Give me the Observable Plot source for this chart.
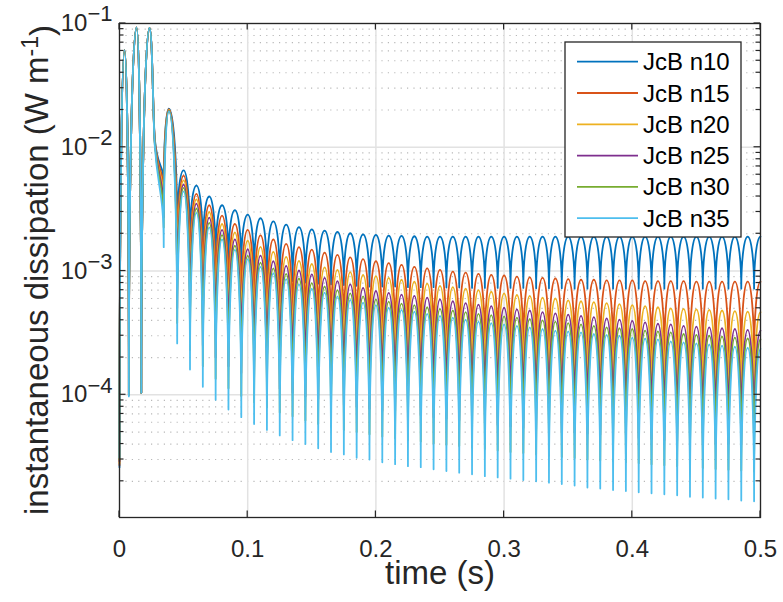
<!DOCTYPE html>
<html><head><meta charset="utf-8">
<script src="https://cdn.jsdelivr.net/npm/d3@7"></script>
<script src="https://cdn.jsdelivr.net/npm/@observablehq/plot@0.6"></script>
<style>body{margin:0;background:#fff;} svg{display:block}</style>
</head><body><div id="chart"></div><script>
const names = ["JcB n10", "JcB n15", "JcB n20", "JcB n25", "JcB n30", "JcB n35"];
const colors = ["#0072BD", "#D95319", "#EDB120", "#7E2F8E", "#77AC30", "#4DBEEE"];
const xTicks = [0, 0.1, 0.2, 0.3, 0.4, 0.5];
const yMajor = [1e-4, 1e-3, 1e-2, 1e-1];
const yMinor = [2e-5,3e-5,4e-5,5e-5,6e-5,7e-5,8e-5,9e-5,2e-4,3e-4,4e-4,5e-4,6e-4,7e-4,8e-4,9e-4,
  2e-3,3e-3,4e-3,5e-3,6e-3,7e-3,8e-3,9e-3,2e-2,3e-2,4e-2,5e-2,6e-2,7e-2,8e-2,9e-2];
const yDomain = [1.02e-5, 0.1];

// start-up transient (times in s)
const earlyTime = [0, 0.0039, 0.0073, 0.0133, 0.017, 0.0234, 0.0275, 0.0345, 0.0385];
const earlyN10 = [2.6e-5, 0.061, 1.0e-4, 0.093, 1.04e-4, 0.092, 0.0118, 4.75e-3, 0.0205];
const earlyN15 = [2.7e-5, 0.061, 1.0e-4, 0.093, 1.04e-4, 0.092, 0.0115, 3.95e-3, 0.0203];
const earlyN20 = [2.8e-5, 0.061, 1.0e-4, 0.093, 1.04e-4, 0.092, 0.0112, 3.27e-3, 0.0201];
const earlyN25 = [2.9e-5, 0.061, 1.0e-4, 0.093, 1.04e-4, 0.092, 0.0110, 2.72e-3, 0.0199];
const earlyN30 = [3.0e-5, 0.061, 1.0e-4, 0.093, 1.04e-4, 0.092, 0.0107, 2.25e-3, 0.0197];
const earlyN35 = [3.1e-5, 0.061, 9.7e-5, 0.093, 1.04e-4, 0.092, 0.0104, 1.56e-3, 0.0195];

// regular oscillation: troughs and peaks
const troughTime = [0.045,0.055,0.065,0.075,0.085,0.095,0.105,0.115,0.125,0.135,0.145,0.155,0.165,0.175,0.185,0.195,
  0.205,0.215,0.225,0.235,0.245,0.255,0.265,0.275,0.285,0.295,0.305,0.315,0.325,0.335,0.345,0.355,0.365,0.375,0.385,
  0.395,0.405,0.415,0.425,0.435,0.445,0.455,0.465,0.475,0.485,0.495];
const peakTime = [0.05,0.06,0.07,0.08,0.09,0.10,0.11,0.12,0.13,0.14,0.15,0.16,0.17,0.18,0.19,0.20,0.21,0.22,0.23,
  0.24,0.25,0.26,0.27,0.28,0.29,0.30,0.31,0.32,0.33,0.34,0.35,0.36,0.37,0.38,0.39,0.40,0.41,0.42,0.43,0.44,0.45,
  0.46,0.47,0.48,0.49,0.50];

const peaksN10 = [6.5e-3,4.9e-3,4.0e-3,3.4e-3,3.1e-3,2.86e-3,2.67e-3,2.52e-3,2.37e-3,2.26e-3,
  2.17e-3,2.12e-3,2.07e-3,2.02e-3,1.98e-3,1.96e-3,1.93e-3,1.92e-3,1.91e-3,1.90e-3,
  1.90e-3,1.90e-3,1.90e-3,1.90e-3,1.90e-3,1.90e-3,1.90e-3,1.90e-3,1.90e-3,1.90e-3,
  1.90e-3,1.90e-3,1.90e-3,1.90e-3,1.90e-3,1.90e-3,1.90e-3,1.90e-3,1.90e-3,1.90e-3,
  1.90e-3,1.90e-3,1.90e-3,1.90e-3,1.90e-3,1.90e-3];
const troughsN10 = [2.2e-3,1.8e-3,1.5e-3,1.3e-3,1.18e-3,1.1e-3,9.6e-4,8.9e-4,8.6e-4,8.3e-4,
  8.1e-4,7.9e-4,7.8e-4,7.7e-4,7.6e-4,7.5e-4,7.5e-4,7.5e-4,7.4e-4,7.4e-4,
  7.4e-4,7.35e-4,7.35e-4,7.3e-4,7.3e-4,7.3e-4,7.3e-4,7.3e-4,7.25e-4,7.25e-4,
  7.25e-4,7.2e-4,7.2e-4,7.2e-4,7.2e-4,7.2e-4,7.2e-4,7.2e-4,7.2e-4,7.2e-4,
  7.2e-4,7.2e-4,7.2e-4,7.2e-4,7.2e-4,7.2e-4];
const peaksN15 = [5.9e-3,4.2e-3,3.4e-3,2.8e-3,2.4e-3,2.15e-3,1.94e-3,1.80e-3,1.66e-3,1.56e-3,
  1.49e-3,1.41e-3,1.35e-3,1.29e-3,1.25e-3,1.20e-3,1.16e-3,1.12e-3,1.08e-3,1.05e-3,
  1.02e-3,9.9e-4,9.7e-4,9.5e-4,9.3e-4,9.2e-4,9.0e-4,8.9e-4,8.8e-4,8.7e-4,
  8.6e-4,8.5e-4,8.5e-4,8.4e-4,8.4e-4,8.4e-4,8.3e-4,8.3e-4,8.3e-4,8.3e-4,
  8.2e-4,8.2e-4,8.2e-4,8.2e-4,8.2e-4,8.2e-4];
const troughsN15 = [1.2e-3,9.0e-4,7.4e-4,6.4e-4,5.7e-4,5.1e-4,4.6e-4,4.2e-4,3.9e-4,3.7e-4,
  3.45e-4,3.3e-4,3.2e-4,3.1e-4,2.95e-4,2.85e-4,2.8e-4,2.7e-4,2.65e-4,2.6e-4,
  2.55e-4,2.5e-4,2.45e-4,2.4e-4,2.37e-4,2.34e-4,2.3e-4,2.27e-4,2.24e-4,2.21e-4,
  2.18e-4,2.16e-4,2.14e-4,2.12e-4,2.1e-4,2.08e-4,2.06e-4,2.05e-4,2.04e-4,2.03e-4,
  2.02e-4,2.01e-4,2.0e-4,2.0e-4,1.99e-4,1.99e-4];
const peaksN20 = [5.4e-3,3.8e-3,3.0e-3,2.4e-3,2.05e-3,1.76e-3,1.57e-3,1.43e-3,1.30e-3,1.21e-3,
  1.14e-3,1.07e-3,1.02e-3,9.8e-4,9.3e-4,9.1e-4,8.8e-4,8.5e-4,8.2e-4,7.9e-4,
  7.6e-4,7.4e-4,7.2e-4,7.0e-4,6.8e-4,6.6e-4,6.4e-4,6.3e-4,6.1e-4,6.0e-4,
  5.8e-4,5.7e-4,5.6e-4,5.5e-4,5.4e-4,5.3e-4,5.2e-4,5.1e-4,5.0e-4,4.95e-4,
  4.9e-4,4.85e-4,4.8e-4,4.75e-4,4.7e-4,4.65e-4];
const troughsN20 = [7.0e-4,4.8e-4,3.7e-4,3.1e-4,2.7e-4,2.4e-4,2.2e-4,2.0e-4,1.85e-4,1.75e-4,
  1.65e-4,1.57e-4,1.5e-4,1.44e-4,1.38e-4,1.33e-4,1.29e-4,1.25e-4,1.22e-4,1.19e-4,
  1.16e-4,1.13e-4,1.1e-4,1.07e-4,1.05e-4,1.02e-4,1.0e-4,9.8e-5,9.6e-5,9.4e-5,
  9.2e-5,9.0e-5,8.9e-5,8.7e-5,8.6e-5,8.5e-5,8.4e-5,8.3e-5,8.2e-5,8.1e-5,
  8.0e-5,7.9e-5,7.8e-5,7.7e-5,7.6e-5,7.5e-5];
const peaksN25 = [5.0e-3,3.5e-3,2.7e-3,2.15e-3,1.8e-3,1.5e-3,1.33e-3,1.2e-3,1.1e-3,1.01e-3,
  9.4e-4,8.8e-4,8.3e-4,7.8e-4,7.3e-4,6.9e-4,6.65e-4,6.45e-4,6.3e-4,6.1e-4,
  5.9e-4,5.7e-4,5.5e-4,5.35e-4,5.2e-4,5.05e-4,4.9e-4,4.8e-4,4.65e-4,4.55e-4,
  4.45e-4,4.35e-4,4.25e-4,4.15e-4,4.05e-4,3.95e-4,3.85e-4,3.75e-4,3.7e-4,3.6e-4,
  3.55e-4,3.5e-4,3.45e-4,3.4e-4,3.35e-4,3.3e-4];
const troughsN25 = [5.0e-4,3.3e-4,2.5e-4,2.0e-4,1.7e-4,1.5e-4,1.35e-4,1.22e-4,1.12e-4,1.04e-4,
  9.7e-5,9.2e-5,8.7e-5,8.3e-5,8.0e-5,7.7e-5,7.4e-5,7.2e-5,7.0e-5,6.8e-5,
  6.6e-5,6.4e-5,6.2e-5,6.0e-5,5.85e-5,5.7e-5,5.55e-5,5.4e-5,5.3e-5,5.2e-5,
  5.05e-5,4.95e-5,4.85e-5,4.75e-5,4.65e-5,4.55e-5,4.45e-5,4.4e-5,4.3e-5,4.25e-5,
  4.15e-5,4.1e-5,4.05e-5,4.0e-5,3.95e-5,3.9e-5];
const peaksN30 = [4.7e-3,3.2e-3,2.45e-3,1.95e-3,1.6e-3,1.33e-3,1.17e-3,1.05e-3,9.5e-4,8.7e-4,
  8.0e-4,7.5e-4,7.0e-4,6.6e-4,6.25e-4,5.9e-4,5.65e-4,5.45e-4,5.3e-4,5.1e-4,
  4.95e-4,4.8e-4,4.65e-4,4.5e-4,4.4e-4,4.3e-4,4.2e-4,4.1e-4,4.0e-4,3.9e-4,
  3.8e-4,3.7e-4,3.6e-4,3.5e-4,3.45e-4,3.4e-4,3.3e-4,3.25e-4,3.2e-4,3.1e-4,
  3.05e-4,3.0e-4,2.95e-4,2.9e-4,2.85e-4,2.8e-4];
const troughsN30 = [3.8e-4,2.3e-4,1.7e-4,1.35e-4,1.13e-4,9.8e-5,8.7e-5,7.9e-5,7.2e-5,6.7e-5,
  6.2e-5,5.8e-5,5.5e-5,5.2e-5,5.0e-5,4.8e-5,4.6e-5,4.45e-5,4.3e-5,4.2e-5,
  4.05e-5,3.95e-5,3.85e-5,3.75e-5,3.65e-5,3.55e-5,3.45e-5,3.38e-5,3.3e-5,3.22e-5,
  3.15e-5,3.08e-5,3.0e-5,2.95e-5,2.9e-5,2.85e-5,2.8e-5,2.75e-5,2.7e-5,2.65e-5,
  2.6e-5,2.56e-5,2.52e-5,2.48e-5,2.44e-5,2.4e-5];
const peaksN35 = [4.4e-3,2.95e-3,2.25e-3,1.8e-3,1.48e-3,1.25e-3,1.08e-3,9.6e-4,8.6e-4,7.8e-4,
  7.2e-4,6.7e-4,6.25e-4,5.85e-4,5.55e-4,5.3e-4,5.05e-4,4.85e-4,4.7e-4,4.5e-4,
  4.35e-4,4.2e-4,4.05e-4,3.9e-4,3.8e-4,3.7e-4,3.6e-4,3.5e-4,3.4e-4,3.3e-4,
  3.25e-4,3.2e-4,3.1e-4,3.05e-4,3.0e-4,2.9e-4,2.85e-4,2.8e-4,2.7e-4,2.65e-4,
  2.6e-4,2.55e-4,2.5e-4,2.45e-4,2.4e-4,2.35e-4];
const troughsN35 = [2.6e-4,1.6e-4,1.16e-4,9.1e-5,7.6e-5,6.6e-5,5.8e-5,5.2e-5,4.7e-5,4.3e-5,
  4.0e-5,3.7e-5,3.45e-5,3.3e-5,3.1e-5,3.0e-5,2.85e-5,2.75e-5,2.65e-5,2.6e-5,
  2.5e-5,2.42e-5,2.35e-5,2.28e-5,2.2e-5,2.15e-5,2.1e-5,2.05e-5,2.0e-5,1.95e-5,
  1.9e-5,1.85e-5,1.78e-5,1.75e-5,1.7e-5,1.67e-5,1.63e-5,1.6e-5,1.57e-5,1.54e-5,
  1.5e-5,1.48e-5,1.45e-5,1.43e-5,1.4e-5,1.38e-5];

const earlyAll = [earlyN10, earlyN15, earlyN20, earlyN25, earlyN30, earlyN35];
const peaksAll = [peaksN10, peaksN15, peaksN20, peaksN25, peaksN30, peaksN35];
const troughsAll = [troughsN10, troughsN15, troughsN20, troughsN25, troughsN30, troughsN35];

const rows = [];
names.forEach((s, i) => {
  earlyTime.forEach((t, j) => rows.push({s, t, v: earlyAll[i][j]}));
  troughTime.forEach((t, j) => {
    rows.push({s, t, v: troughsAll[i][j]});
    rows.push({s, t: peakTime[j], v: peaksAll[i][j]});
  });
});

// curve: rounded at local maxima, cusp at local minima (shape of a log-scaled sin^2)
function cuspCurve(context) {
  let pts = [];
  return {
    areaStart() {}, areaEnd() {},
    lineStart() { pts = []; },
    point(x, y) { pts.push([+x, +y]); },
    lineEnd() {
      const n = pts.length;
      if (!n) return;
      const kind = pts.map((p, i) => {
        const a = pts[i - 1], b = pts[i + 1];
        if ((a ? p[1] < a[1] : true) && (b ? p[1] < b[1] : true)) return "max";
        if ((a ? p[1] > a[1] : true) && (b ? p[1] > b[1] : true)) return "min";
        return "mono";
      });
      const K = 0.55;
      context.moveTo(pts[0][0], pts[0][1]);
      for (let i = 0; i < n - 1; ++i) {
        const [x0, y0] = pts[i], [x1, y1] = pts[i + 1];
        const dx = x1 - x0, dy = y1 - y0;
        let c1x, c1y, c2x, c2y;
        if (kind[i] === "max") { c1x = x0 + K * dx; c1y = y0; }
        else if (kind[i] === "min") { c1x = x0; c1y = y0 + K * dy; }
        else { const a = pts[i - 1], b = pts[i + 1]; const s = (b[1] - a[1]) / (b[0] - a[0]); c1x = x0 + dx / 3; c1y = y0 + s * dx / 3; }
        if (kind[i + 1] === "max") { c2x = x1 - K * dx; c2y = y1; }
        else if (kind[i + 1] === "min") { c2x = x1; c2y = y1 - K * dy; }
        else { const a = pts[i], b = pts[i + 2]; const s = (b[1] - a[1]) / (b[0] - a[0]); c2x = x1 - dx / 3; c2y = y1 - s * dx / 3; }
        context.bezierCurveTo(c1x, c1y, c2x, c2y, x1, y1);
      }
    }
  };
}

const FONT = "'Liberation Sans', Arial, Helvetica, sans-serif";
const W = 783, H = 602, ML = 119, MR = 23, MT = 23, MB = 85;

const chart = Plot.plot({
  width: W, height: H,
  marginLeft: ML, marginRight: MR, marginTop: MT, marginBottom: MB,
  style: {fontFamily: FONT, fontSize: "24px", color: "#262626", background: "#fff", overflow: "visible"},
  x: {domain: [0, 0.5], label: null},
  y: {type: "log", domain: yDomain, label: null},
  color: {domain: names, range: colors},
  marks: [
    Plot.ruleY(yMinor, {stroke: "#b8b8b8", strokeWidth: 1.2, strokeDasharray: "1.2,5.2"}),
    Plot.ruleX(xTicks, {stroke: "#e2e2e2", strokeWidth: 1.5}),
    Plot.ruleY(yMajor, {stroke: "#e2e2e2", strokeWidth: 1.5}),
    Plot.line(rows, {x: "t", y: "v", z: "s", stroke: "s", curve: cuspCurve, strokeWidth: 1.8}),
    Plot.frame({stroke: "#262626", strokeWidth: 1.3}),
    Plot.axisX(xTicks, {tickSize: 0, tickPadding: 22, tickFormat: d => String(d), fontSize: 24, label: null, fill: "#262626"}),
    Plot.axisY(yMajor, {tickSize: 0, tickPadding: 7, tickFormat: d => "10^" + Math.round(Math.log10(d)), fontSize: 24, label: null, fill: "#262626"}),
    Plot.text(["time (s)"], {frameAnchor: "bottom", dy: 66, fontSize: 33, fill: "#262626"})
  ]
});

document.getElementById("chart").appendChild(chart);
const svg = d3.select(chart);
const sx = chart.scale("x"), sy = chart.scale("y");

// superscripts on y tick labels
svg.selectAll("g[aria-label='y-axis tick label'] text").each(function () {
  const [b, e] = this.textContent.split("^");
  const t = d3.select(this);
  t.text(null);
  t.append("tspan").text(b);
  t.append("tspan").attr("dy", "-0.45em").style("font-size", "22px").text(e.replace("-", "\u2212"));
});

// inward ticks on all four sides
const fTop = MT, fBottom = H - MB, fLeft = ML, fRight = W - MR;
const tg = svg.append("g").attr("stroke", "#262626").attr("stroke-width", 1.2);
xTicks.forEach(v => {
  const X = sx.apply(v);
  tg.append("line").attr("x1", X).attr("x2", X).attr("y1", fBottom).attr("y2", fBottom - 6.5);
  tg.append("line").attr("x1", X).attr("x2", X).attr("y1", fTop).attr("y2", fTop + 6.5);
});
yMajor.concat(yMinor).forEach(v => {
  const Y = sy.apply(v), L = yMajor.includes(v) ? 6.5 : 4.5;
  tg.append("line").attr("x1", fLeft).attr("x2", fLeft + L).attr("y1", Y).attr("y2", Y);
  tg.append("line").attr("x1", fRight).attr("x2", fRight - L).attr("y1", Y).attr("y2", Y);
});

// y-axis label
const yl = svg.append("text")
  .attr("transform", `translate(48,${(fTop + fBottom) / 2}) rotate(-90)`)
  .attr("text-anchor", "middle").style("font-size", "33px").attr("fill", "#262626").attr("font-family", FONT);
yl.append("tspan").text("instantaneous dissipation (W m");
yl.append("tspan").attr("dy", "-0.45em").style("font-size", "23px").text("-1");
yl.append("tspan").attr("dy", "0.45em").text(")");

// legend
const lg = svg.append("g").attr("font-family", FONT).style("font-size", "24px").attr("text-anchor", "start");
lg.append("rect").attr("x", 565).attr("y", 42).attr("width", 176).attr("height", 195)
  .attr("fill", "#fff").attr("stroke", "#262626").attr("stroke-width", 1.3);
names.forEach((n, i) => {
  const y = 61.7 + i * 31.3;
  lg.append("line").attr("x1", 577).attr("x2", 638).attr("y1", y).attr("y2", y)
    .attr("stroke", colors[i]).attr("stroke-width", 1.8);
  lg.append("text").attr("x", 643).attr("y", y + 8.5).attr("fill", "#000").attr("text-anchor", "start").text(n);
});
</script></body></html>
